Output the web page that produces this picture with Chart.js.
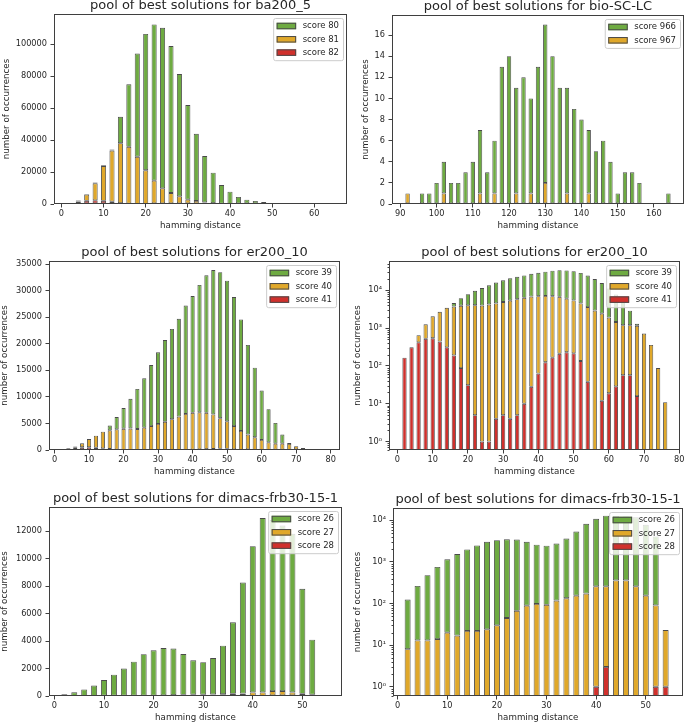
<!DOCTYPE html>
<html>
<head>
<meta charset="utf-8">
<title>pool of best solutions</title>
<script src="https://cdn.jsdelivr.net/npm/chart.js@4.4.0/dist/chart.umd.min.js"></script>
<style>
  html, body { margin: 0; padding: 0; background: #fff; }
  body { position: relative; width: 685px; height: 723px; overflow: hidden; }
  .panel { position: absolute; }
</style>
</head>
<body>
<div class="panel"><canvas id="chart-ba"></canvas></div>
<div class="panel"><canvas id="chart-bio"></canvas></div>
<div class="panel"><canvas id="chart-er-lin"></canvas></div>
<div class="panel"><canvas id="chart-er-log"></canvas></div>
<div class="panel"><canvas id="chart-frb-lin"></canvas></div>
<div class="panel"><canvas id="chart-frb-log"></canvas></div>
<script>
// ba200_5
const baDistance = [2, 4, 6, 8, 10, 12, 14, 16, 18, 20, 22, 24, 26, 28, 30, 32, 34, 36, 38, 40, 42, 44, 46, 48, 50, 52, 54, 56, 58, 60, 62, 64];
const baScore80 = [100, 200, 300, 500, 400, 700, 16500, 39200, 64600, 85400, 97900, 100600, 92000, 76600, 59300, 42100, 29000, 19100, 11700, 7600, 4400, 2700, 1900, 1200, 600, 200, 80, 30, 10, 0, 0, 0];
const baScore81 = [100, 600, 3900, 10700, 21800, 32100, 37600, 35600, 29500, 21100, 14600, 9800, 6900, 4800, 2700, 1900, 1000, 500, 200, 100, 0, 0, 0, 0, 0, 0, 0, 0, 0, 0, 0, 0];
const baScore82 = [300, 1500, 2000, 2300, 2000, 1400, 500, 200, 100, 50, 0, 0, 0, 0, 0, 0, 0, 0, 0, 0, 0, 0, 0, 0, 0, 0, 0, 0, 0, 0, 0, 0];

// bio-SC-LC
const bioDistance = [92, 94, 96, 98, 100, 102, 104, 106, 108, 110, 112, 114, 116, 118, 120, 122, 124, 126, 128, 130, 132, 134, 136, 138, 140, 142, 144, 146, 148, 150, 152, 154, 156, 158, 160, 162, 164];
const bioScore966 = [0, 0, 1, 1, 2, 3, 2, 2, 3, 4, 6, 3, 5, 13, 14, 10, 12, 9, 13, 15, 14, 11, 10, 9, 8, 6, 5, 6, 4, 1, 3, 3, 2, 0, 0, 0, 1];
const bioScore967 = [1, 0, 0, 0, 0, 1, 0, 0, 0, 0, 1, 0, 1, 0, 0, 1, 0, 1, 0, 2, 0, 0, 1, 0, 0, 1, 0, 0, 0, 0, 0, 0, 0, 0, 0, 0, 0];

// er200_10
const erDistance = [2, 4, 6, 8, 10, 12, 14, 16, 18, 20, 22, 24, 26, 28, 30, 32, 34, 36, 38, 40, 42, 44, 46, 48, 50, 52, 54, 56, 58, 60, 62, 64, 66, 68, 70, 72, 74, 76];
const erScore39 = [0, 0, 0, 0, 0, 0, 0, 900, 2300, 3900, 5600, 7550, 9300, 11500, 13500, 15400, 17000, 18400, 20400, 22000, 24000, 25900, 27200, 27500, 26500, 24300, 21000, 16900, 13100, 9300, 6250, 3900, 1700, 150, 0, 0, 0, 0];
const erScore40 = [0, 0, 230, 740, 1510, 2260, 3140, 3510, 3810, 3970, 4045, 3950, 4200, 4500, 4900, 5300, 5800, 6290, 6770, 6940, 6975, 6835, 6490, 5770, 5185, 4365, 3560, 2900, 2390, 1880, 1420, 1140, 1140, 1135, 720, 360, 88, 11];
const erScore41 = [165, 310, 420, 520, 540, 440, 310, 190, 88, 31, 5, 1, 1, 4, 5, 4, 5, 10, 28, 63, 125, 165, 210, 230, 215, 135, 38, 0, 12, 19, 29, 57, 57, 16, 0, 0, 0, 0];

// dimacs-frb30-15-1
const frbDistance = [2, 4, 6, 8, 10, 12, 14, 16, 18, 20, 22, 24, 26, 28, 30, 32, 34, 36, 38, 40, 42, 44, 46, 48, 50, 52, 54];
const frbScore26 = [117, 252, 467, 746, 1140, 1533, 1978, 2478, 3016, 3300, 3445, 3383, 2961, 2502, 2367, 2642, 3526, 5205, 8076, 10640, 12690, 12440, 12040, 11540, 7645, 4010, 0];
const frbScore27 = [8, 13, 13, 14, 20, 17, 22, 22, 24, 30, 45, 67, 89, 98, 93, 118, 134, 155, 174, 259, 257, 360, 360, 260, 155, 89, 22];
const frbScore28 = [0, 0, 0, 0, 0, 0, 0, 0, 0, 0, 0, 0, 0, 0, 0, 0, 0, 0, 0, 1, 3, 0, 0, 0, 0, 1, 1];

// tick labels
const baXTicks = [0, 10, 20, 30, 40, 50, 60];
const baYTicks = [0, 20000, 40000, 60000, 80000, 100000];
const bioXTicks = [90, 100, 110, 120, 130, 140, 150, 160];
const bioYTicks = [0, 2, 4, 6, 8, 10, 12, 14, 16];
const erXTicks = [0, 10, 20, 30, 40, 50, 60, 70, 80];
const erYTicks = [0, 5000, 10000, 15000, 20000, 25000, 30000, 35000];
const frbXTicks = [0, 10, 20, 30, 40, 50];
const frbYTicks = [0, 2000, 4000, 6000, 8000, 10000, 12000];
const logYTicks = [1, 10, 100, 1000, 10000];
const logYLabels = ['10⁰', '10¹', '10²', '10³', '10⁴'];

const GREEN = '#6eab41';
const GOLD = '#e0a82a';
const RED = '#d0302c';
const EDGE = '#3f3f3f';
const BAR_EDGE = '#4a4a4a';
const INK = '#262626';

Chart.defaults.font.family = "'DejaVu Sans', sans-serif";
Chart.defaults.color = INK;

// Draws the box round the axes, minor log ticks and the legend inside the plot
const axesBox = {
    id: 'axesBox',
    afterDatasetsDraw(chart, args, opts) {
        const { ctx, chartArea: a } = chart;
        const left = Math.round(a.left) + 0.5;
        const top = Math.round(a.top) + 0.5;
        const right = Math.round(a.right) - 0.5;
        const bottom = Math.round(a.bottom) - 0.5;
        ctx.save();
        ctx.strokeStyle = EDGE;
        ctx.lineWidth = 1;
        ctx.strokeRect(left, top, right - left, bottom - top);

        if (opts.log) {
            const y = chart.scales.y;
            ctx.beginPath();
            for (let d = 0.1; d <= 10000; d *= 10) {
                for (let k = 2; k <= 9; k++) {
                    const v = d * k;
                    if (v < y.min || v > y.max) continue;
                    const py = Math.round(y.getPixelForValue(v)) + 0.5;
                    ctx.moveTo(left - 2, py);
                    ctx.lineTo(left, py);
                }
            }
            ctx.stroke();
        }

        // legend, first score on top
        const items = chart.data.datasets.slice().reverse();
        ctx.font = '8.5px "DejaVu Sans"';
        const textW = Math.max(...items.map(d => ctx.measureText(d.label).width));
        const pad = 3.5, patchW = 19.5, patchH = 6.5, gap = 6.5, rowH = 13.3;
        const w = pad + patchW + gap + textW + 4;
        const h = items.length * rowH + 2.3;
        const x0 = a.right - 4 - w;
        const y0 = a.top + 4;
        ctx.beginPath();
        ctx.roundRect(x0 + 0.5, y0 + 0.5, w, h, 2);
        ctx.fillStyle = 'rgba(255,255,255,0.8)';
        ctx.fill();
        ctx.strokeStyle = '#cccccc';
        ctx.stroke();
        items.forEach((d, i) => {
            const cy = y0 + 8 + i * rowH;
            ctx.fillStyle = d.backgroundColor;
            ctx.fillRect(x0 + pad, cy - patchH / 2, patchW, patchH);
            ctx.strokeStyle = BAR_EDGE;
            ctx.strokeRect(x0 + pad + 0.5, cy - patchH / 2 + 0.5, patchW - 1, patchH - 1);
            ctx.fillStyle = INK;
            ctx.textBaseline = 'middle';
            ctx.textAlign = 'left';
            ctx.fillText(d.label, x0 + pad + patchW + gap, cy);
        });
        ctx.restore();
    }
};

// Build one stacked histogram panel; area is the plot box in page pixels
function makeChart(canvasId, p) {
    const canvas = document.getElementById(canvasId);
    const wrap = canvas.parentNode;
    const titleH = 17, xAxisH = 27, padRight = 4;
    const [aL, aT, aR, aB] = p.area;
    wrap.style.left = (aL - p.yAxisW) + 'px';
    wrap.style.top = (aT - titleH) + 'px';
    wrap.style.width = (p.yAxisW + aR - aL + padRight) + 'px';
    wrap.style.height = (titleH + aB - aT + xAxisH) + 'px';

    const tickGrid = {
        display: true, drawOnChartArea: false, drawTicks: true, offset: false,
        tickLength: 3.5, tickWidth: 1, color: EDGE, tickColor: EDGE
    };

    return new Chart(canvas, {
        type: 'bar',
        data: {
            labels: p.distance,
            datasets: p.series.map(s => ({
                label: s.label,
                data: s.data,
                backgroundColor: s.color,
                borderColor: BAR_EDGE,
                borderWidth: 0.9,
                borderSkipped: false,
                barPercentage: 0.6,
                categoryPercentage: 1
            }))
        },
        options: {
            responsive: true,
            maintainAspectRatio: false,
            animation: false,
            layout: { padding: { left: 0, top: 0, right: padRight, bottom: 0 } },
            plugins: {
                legend: { display: false },
                tooltip: { enabled: false },
                title: {
                    display: true,
                    text: p.title,
                    fullSize: false,
                    color: INK,
                    font: { size: 13, weight: 'normal' },
                    padding: { top: 1, bottom: 0.4 }
                },
                axesBox: { log: !!p.log }
            },
            scales: {
                x: {
                    type: 'linear',
                    min: p.xRange[0],
                    max: p.xRange[1],
                    offset: false,
                    stacked: true,
                    grid: tickGrid,
                    border: { display: false },
                    afterBuildTicks: s => { s.ticks = p.xTicks.map(v => ({ value: v })); },
                    afterFit: s => { s.height = xAxisH; s.paddingLeft = 0; s.paddingRight = 0; },
                    ticks: {
                        autoSkip: false, maxRotation: 0, padding: 1, color: INK,
                        font: { size: 8.2 },
                        callback: v => String(v)
                    },
                    title: {
                        display: true, text: 'hamming distance', color: INK,
                        font: { size: 8.7 }, padding: 0
                    }
                },
                y: {
                    type: p.log ? 'logarithmic' : 'linear',
                    min: p.yRange[0],
                    max: p.yRange[1],
                    stacked: true,
                    grid: tickGrid,
                    border: { display: false },
                    afterBuildTicks: s => { s.ticks = p.yTicks.map(v => ({ value: v })); },
                    afterFit: s => { s.width = p.yAxisW; s.paddingTop = 0; s.paddingBottom = 0; },
                    ticks: {
                        autoSkip: false, padding: 3.5, color: INK,
                        font: { size: 8.2 },
                        callback: (v, i) => p.yLabels ? p.yLabels[i] : String(v)
                    },
                    title: {
                        display: true, text: 'number of occurrences', color: INK,
                        font: { size: 8.7 }, padding: 0
                    }
                }
            }
        },
        plugins: [axesBox]
    });
}

makeChart('chart-ba', {
    title: 'pool of best solutions for ba200_5',
    area: [54, 14, 347, 204], yAxisW: 52,
    distance: baDistance,
    series: [
        { label: 'score 82', data: baScore82, color: RED },
        { label: 'score 81', data: baScore81, color: GOLD },
        { label: 'score 80', data: baScore80, color: GREEN }
    ],
    xRange: [-1.76, 67.76], xTicks: baXTicks,
    yRange: [0, 119000], yTicks: baYTicks
});

makeChart('chart-bio', {
    title: 'pool of best solutions for bio-SC-LC',
    area: [392, 15, 684, 204], yAxisW: 31,
    distance: bioDistance,
    series: [
        { label: 'score 967', data: bioScore967, color: GOLD },
        { label: 'score 966', data: bioScore966, color: GREEN }
    ],
    xRange: [87.7, 168.3], xTicks: bioXTicks,
    yRange: [0, 17.9], yTicks: bioYTicks
});

makeChart('chart-er-lin', {
    title: 'pool of best solutions for er200_10',
    area: [49, 261, 340, 450], yAxisW: 49,
    distance: erDistance,
    series: [
        { label: 'score 41', data: erScore41, color: RED },
        { label: 'score 40', data: erScore40, color: GOLD },
        { label: 'score 39', data: erScore39, color: GREEN }
    ],
    xRange: [-1.6, 82.7], xTicks: erXTicks,
    yRange: [0, 35600], yTicks: erYTicks
});

makeChart('chart-er-log', {
    title: 'pool of best solutions for er200_10',
    area: [389, 261, 680, 450], yAxisW: 36,
    distance: erDistance,
    series: [
        { label: 'score 41', data: erScore41, color: RED },
        { label: 'score 40', data: erScore40, color: GOLD },
        { label: 'score 39', data: erScore39, color: GREEN }
    ],
    xRange: [-2.4, 80.2], xTicks: erXTicks,
    log: true, yRange: [0.603, 59400], yTicks: logYTicks, yLabels: logYLabels
});

makeChart('chart-frb-lin', {
    title: 'pool of best solutions for dimacs-frb30-15-1',
    area: [49, 507, 342, 696], yAxisW: 49,
    distance: frbDistance,
    series: [
        { label: 'score 28', data: frbScore28, color: RED },
        { label: 'score 27', data: frbScore27, color: GOLD },
        { label: 'score 26', data: frbScore26, color: GREEN }
    ],
    xRange: [-1.1, 58.0], xTicks: frbXTicks,
    yRange: [0, 13750], yTicks: frbYTicks
});

makeChart('chart-frb-log', {
    title: 'pool of best solutions for dimacs-frb30-15-1',
    area: [393, 508, 683, 696], yAxisW: 40,
    distance: frbDistance,
    series: [
        { label: 'score 28', data: frbScore28, color: RED },
        { label: 'score 27', data: frbScore27, color: GOLD },
        { label: 'score 26', data: frbScore26, color: GREEN }
    ],
    xRange: [-0.95, 57.5], xTicks: frbXTicks,
    log: true, yRange: [0.608, 19800], yTicks: logYTicks, yLabels: logYLabels
});
</script>
</body>
</html>
